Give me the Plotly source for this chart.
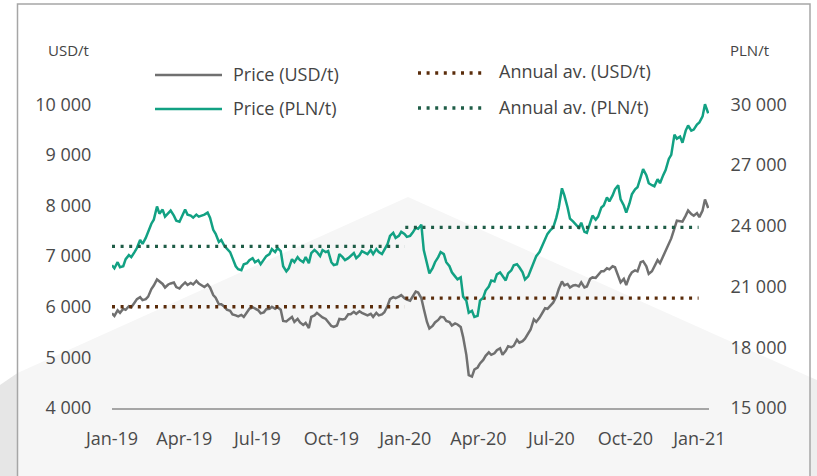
import pandas as pd
import plotly.graph_objects as go

# ---------------- data ----------------
# twice-weekly observations (Tuesdays and Fridays), 2019-01-01 .. 2021-01-12
tuesdays = pd.date_range("2019-01-01", "2021-01-12", freq="W-TUE")
fridays = pd.date_range("2019-01-04", "2021-01-08", freq="W-FRI")
dates = [d.strftime("%Y-%m-%d") for d in sorted(list(tuesdays) + list(fridays))]

usd_price = [
    # 2019 (Tue, Fri pairs)
    5870, 5820, 5930, 5880, 5960, 5940, 6010, 5990,
    6080, 6150, 6190, 6130, 6150, 6200, 6350, 6420,
    6540, 6500, 6450, 6380, 6440, 6460, 6480, 6390, 6360, 6420,
    6480, 6430, 6470, 6440, 6510, 6460, 6420, 6390,
    6440, 6380, 6230, 6180, 6050, 6050, 6000, 5940, 5920, 5850,
    5830, 5810, 5840, 5800, 5890, 5960, 5990, 5970,
    5930, 5870, 5890, 5950, 5960, 6000, 5960, 5990,
    5940, 5720, 5710, 5750, 5800, 5700, 5760, 5690, 5640, 5680,
    5580, 5800, 5830, 5880, 5830, 5790, 5760, 5700,
    5620, 5600, 5630, 5760, 5750, 5760, 5850, 5850,
    5900, 5860, 5910, 5880, 5860, 5830, 5860, 5800, 5880, 5830,
    5850, 5890, 6020, 6150, 6190, 6170, 6200, 6230,
    6170,
    # 2020
    6140,
    6120, 6200, 6300, 6280, 6170, 5960, 5700, 5570,
    5620, 5690, 5740, 5800, 5790, 5720, 5700, 5630,
    5670, 5650, 5600, 5400, 5050, 4650, 4620, 4760,
    4800, 4880, 4950, 5030, 5100, 5050, 5080, 5140,
    5180, 5050, 5130, 5220, 5200, 5230, 5350, 5290, 5320, 5370,
    5460, 5550, 5750, 5700, 5780, 5850, 5970, 5960,
    6040, 6080, 6200, 6350, 6500, 6420, 6450, 6380, 6420, 6430,
    6400, 6480, 6380, 6400, 6550, 6580, 6570, 6630,
    6700, 6700, 6760, 6740, 6800, 6780, 6600, 6480,
    6550, 6430, 6600, 6680, 6720, 6700, 6880, 6900, 6800, 6650,
    6700, 6800, 6920, 6860, 7000, 7100, 7250, 7350,
    7550, 7700, 7690, 7680, 7800, 7900, 7830, 7800,
    7850,
    # 2021
    7770, 7900, 8120, 7950,
]

pln_price = [
    # 2019
    22050, 21900, 22200, 21950, 22000, 22350, 22550, 22450,
    22700, 22900, 23300, 23100, 23400, 23700, 24100, 24300,
    24950, 24600, 24800, 24450, 24650, 24750, 24500, 24250, 24200, 24500,
    24800, 24550, 24500, 24400, 24550, 24450, 24500, 24550,
    24650, 24400, 23800, 23600, 23200, 23300, 23000, 22850, 22700, 22400,
    22000, 21850, 21800, 22100, 22150, 22300, 22400, 22200,
    22300, 22100, 22300, 22500, 22600, 22850, 22700, 22900,
    22750, 22000, 21750, 21900, 22350, 22200, 22450, 22300, 22200, 22450,
    22150, 22650, 22800, 22700, 22500, 22800, 22700, 22750,
    22200, 22060, 22100, 22600, 22450, 22300, 22400, 22500,
    22650, 22400, 22550, 22750, 22650, 22600, 22800, 22600, 22850, 22700,
    22600, 22800, 23100, 23500, 23650, 23400, 23500, 23700,
    23600,
    # 2020
    23450,
    23500, 23650, 23900, 23850, 24050, 22800, 22100, 21650,
    21900, 22200, 22450, 22700, 22600, 22200, 22000, 21700,
    21500, 21350, 21450, 20500, 20300, 19700, 19800, 19500,
    19550, 20300, 20450, 20800, 21000, 21300, 21250, 21600,
    21700, 21500, 21300, 21650, 21800, 22050, 22100, 21950, 21700, 21350,
    21500, 21800, 22150, 22500, 22700, 22950, 23300, 23600,
    23800, 23900, 24400, 24900, 25850, 25500, 24900, 24350, 24200, 24050,
    23900, 24150, 23700, 23650, 24200, 24500, 24300, 24450,
    24900, 25000, 25400, 25200, 25500, 25800, 26000, 25300,
    25000, 24650, 25100, 25550, 25800, 25900, 26400, 26800, 26500, 26100,
    26000, 25950, 26300, 26100, 26500, 26750, 27300, 27500,
    28500, 28300, 28400, 28100, 28700, 28950, 28700, 28750,
    29000,
    # 2021
    29100, 29400, 30000, 29550,
]

avg_dates = ["2019-01-01", "2019-12-31", None, "2020-01-01", "2020-12-31"]
usd_avg = [6000, 6000, None, 6170, 6170]
pln_avg = [22980, 22980, None, 23920, 23920]

x_tick_dates = ["2019-01-01", "2019-04-01", "2019-07-01", "2019-10-01", "2020-01-01",
                "2020-04-01", "2020-07-01", "2020-10-01", "2021-01-01"]
usd_ticks = [4000, 5000, 6000, 7000, 8000, 9000, 10000]
pln_ticks = [15000, 18000, 21000, 24000, 27000, 30000]

series_names = ["Price (USD/t)", "Annual av. (USD/t)", "Price (PLN/t)", "Annual av. (PLN/t)"]

n = min(len(dates), len(usd_price), len(pln_price))

# ---------------- styling ----------------
GREY = "#707070"
TEAL = "#12a183"
BROWN = "#5a2c0b"
DGREEN = "#1f5d47"
TXT = "#444444"
FONT = "Open Sans"
DOT = "3px,5.6px"

W, H = 817, 476
L, R, T, B = 112, 709, 84, 408


def px(xp, yp):
    return (xp - L) / (R - L), (B - yp) / (B - T)


def path(points):
    parts = []
    for i, (xp, yp) in enumerate(points):
        x, y = px(xp, yp)
        parts.append(("M" if i == 0 else "L") + f"{x:.5f},{y:.5f}")
    return " ".join(parts) + " Z"


fig = go.Figure()

fig.add_trace(go.Scatter(x=dates[:n], y=usd_price[:n], mode="lines", name=series_names[0],
                         line=dict(color=GREY, width=2.5), yaxis="y"))
fig.add_trace(go.Scatter(x=avg_dates, y=usd_avg, mode="lines", name=series_names[1],
                         line=dict(color=BROWN, width=3.3, dash=DOT), yaxis="y",
                         connectgaps=False))
fig.add_trace(go.Scatter(x=dates[:n], y=pln_price[:n], mode="lines", name=series_names[2],
                         line=dict(color=TEAL, width=2.5), yaxis="y2"))
fig.add_trace(go.Scatter(x=avg_dates, y=pln_avg, mode="lines", name=series_names[3],
                         line=dict(color=DGREEN, width=3.3, dash=DOT), yaxis="y2",
                         connectgaps=False))

shapes = [
    dict(type="path", xref="paper", yref="paper", layer="below",
         path=path([(17.5, 373), (408, 197), (810, 377), (810, 490), (17.5, 490)]),
         fillcolor="#f6f6f6", line=dict(width=0)),
    dict(type="path", xref="paper", yref="paper", layer="below",
         path=path([(0, 385), (17.5, 373), (17.5, 490), (0, 490)]),
         fillcolor="#e6e6e6", line=dict(width=0)),
    dict(type="path", xref="paper", yref="paper", layer="below",
         path=path([(810, 377), (817, 380), (817, 490), (810, 490)]),
         fillcolor="#eeeeee", line=dict(width=0)),
]
fx0, fy0 = px(17.5, 4)
fx1, fy1 = px(810, 490)
shapes.append(dict(type="rect", xref="paper", yref="paper", layer="below",
                   x0=fx0, y0=fy1, x1=fx1, y1=fy0, line=dict(color="#a6a6a6", width=1.5),
                   fillcolor="rgba(0,0,0,0)"))

legend_items = [
    (155, 222, 75, GREY, None, series_names[0], 231, 74),
    (418, 482, 73, BROWN, DOT, series_names[1], 497, 71),
    (155, 222, 109, TEAL, None, series_names[2], 231, 108),
    (418, 482, 108, DGREEN, DOT, series_names[3], 497, 107),
]
annotations = []
for xa, xb, yl, col, dash, label, xt, yt in legend_items:
    x0, y0 = px(xa, yl)
    x1, _ = px(xb, yl)
    ln = dict(color=col, width=2.5 if dash is None else 3.3)
    if dash:
        ln["dash"] = dash
    shapes.append(dict(type="line", xref="paper", yref="paper", x0=x0, x1=x1, y0=y0, y1=y0, line=ln))
    tx, ty = px(xt, yt)
    annotations.append(dict(xref="paper", yref="paper", x=tx, y=ty, text=label, showarrow=False,
                            xanchor="left", yanchor="middle", font=dict(family=FONT, size=18, color=TXT)))

ux, uy = px(46, 50)
annotations.append(dict(xref="paper", yref="paper", x=ux, y=uy, text="USD/t", showarrow=False,
                        xanchor="left", yanchor="middle", font=dict(family=FONT, size=15, color=TXT)))
px_, py_ = px(728, 50)
annotations.append(dict(xref="paper", yref="paper", x=px_, y=py_, text="PLN/t", showarrow=False,
                        xanchor="left", yanchor="middle", font=dict(family=FONT, size=15, color=TXT)))

tickfont = dict(family=FONT, size=18, color="#4a4a4a")

fig.update_layout(
    width=W, height=H, autosize=False,
    margin=dict(l=L, r=W - R, t=T, b=H - B, pad=0),
    paper_bgcolor="white", plot_bgcolor="rgba(0,0,0,0)",
    showlegend=False,
    separators=". ",
    shapes=shapes, annotations=annotations,
    xaxis=dict(type="date", range=["2019-01-01", "2021-01-13"], tickvals=x_tick_dates,
               tickformat="%b-%y", showgrid=False, zeroline=False, showline=True,
               linecolor="#a6a6a6", linewidth=1.5, ticks="outside", ticklen=14,
               tickcolor="rgba(0,0,0,0)", tickfont=tickfont),
    yaxis=dict(range=[4000, 10400], tickvals=usd_ticks, tickformat=",d", showgrid=False,
               zeroline=False, showline=False, ticks="outside", ticklen=16,
               tickcolor="rgba(0,0,0,0)", tickfont=tickfont),
    yaxis2=dict(range=[15000, 31000], tickvals=pln_ticks, tickformat=",d", overlaying="y",
                side="right", showgrid=False, zeroline=False, showline=False, ticks="outside",
                ticklen=17, tickcolor="rgba(0,0,0,0)", tickfont=tickfont),
)

fig.write_html("out.html", config={"displayModeBar": False},
               post_script="document.body.style.margin='0';document.body.style.overflow='hidden';")
